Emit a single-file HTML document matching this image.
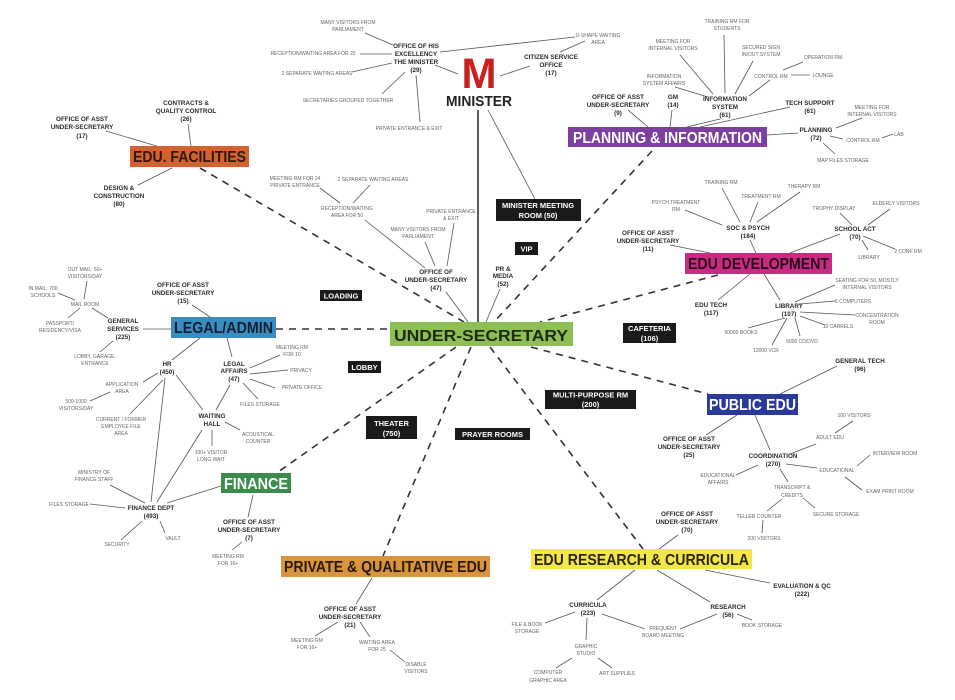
<!DOCTYPE html>
<html><head><meta charset="utf-8"><style>
body{margin:0;background:#fff}
svg{display:block}
text{font-family:"Liberation Sans",Arial,sans-serif;text-anchor:middle}
.b{font-size:6.3px;font-weight:bold;fill:#2a2a2a}
.l{font-size:5px;fill:#666}
.t{font-weight:bold;font-size:16px;text-anchor:start}
.w{font-weight:bold;font-size:7.5px;fill:#fff}
.s line{stroke:#555;stroke-width:.8}
.d line{stroke:#333;stroke-width:1.6;stroke-dasharray:7,6}
</style></head><body>
<svg width="955" height="700" viewBox="0 0 955 700" xmlns="http://www.w3.org/2000/svg">
<rect width="955" height="700" fill="#fff"/>
<!-- dashed -->
<g class="d">
<line x1="200" y1="168" x2="464" y2="322"/>
<line x1="276" y1="329" x2="390" y2="329"/>
<line x1="652" y1="151" x2="494" y2="322"/>
<line x1="718" y1="275" x2="540" y2="322"/>
<line x1="531" y1="347" x2="708" y2="394"/>
<line x1="490" y1="347" x2="643" y2="549"/>
<line x1="456" y1="347" x2="278" y2="472"/>
<line x1="471" y1="347" x2="383" y2="556"/>
</g>
<!-- solid thick -->
<line x1="478" y1="110" x2="478" y2="322" stroke="#333" stroke-width="1.6"/>
<g class="s">
<line x1="488" y1="110" x2="535" y2="199"/>
<line x1="365" y1="33" x2="393" y2="45"/><line x1="360" y1="54" x2="392" y2="54"/>
<line x1="352" y1="72" x2="392" y2="63"/><line x1="382" y1="94" x2="405" y2="72"/>
<line x1="420" y1="122" x2="416" y2="75"/><line x1="435" y1="65" x2="458" y2="74"/>
<line x1="440" y1="52" x2="575" y2="37"/>
<line x1="585" y1="41" x2="560" y2="52"/><line x1="530" y1="66" x2="500" y2="76"/>
<line x1="106" y1="131" x2="160" y2="147"/><line x1="188" y1="124" x2="191" y2="146"/>
<line x1="138" y1="185" x2="172" y2="168"/>
<line x1="320" y1="188" x2="340" y2="203"/><line x1="370" y1="185" x2="353" y2="203"/>
<line x1="365" y1="220" x2="425" y2="268"/><line x1="425" y1="242" x2="435" y2="266"/>
<line x1="454" y1="223" x2="447" y2="266"/><line x1="446" y1="292" x2="468" y2="322"/>
<line x1="87" y1="281" x2="84" y2="299"/><line x1="58" y1="293" x2="75" y2="300"/>
<line x1="92" y1="308" x2="108" y2="318"/><line x1="80" y1="308" x2="68" y2="318"/>
<line x1="143" y1="329" x2="171" y2="329"/><line x1="192" y1="305" x2="210" y2="317"/>
<line x1="680" y1="55" x2="713" y2="94"/><line x1="724" y1="35" x2="725" y2="93"/>
<line x1="753" y1="61" x2="735" y2="94"/><line x1="675" y1="87" x2="708" y2="97"/>
<line x1="770" y1="80" x2="749" y2="96"/><line x1="783" y1="70" x2="803" y2="62"/>
<line x1="791" y1="75" x2="810" y2="75"/>
<line x1="720" y1="119" x2="687" y2="127"/><line x1="790" y1="107" x2="700" y2="127"/>
<line x1="628" y1="110" x2="648" y2="127"/><line x1="672" y1="110" x2="670" y2="127"/>
<line x1="767" y1="135" x2="798" y2="133"/><line x1="836" y1="128" x2="862" y2="118"/>
<line x1="830" y1="136" x2="843" y2="139"/><line x1="882" y1="138" x2="893" y2="134"/>
<line x1="823" y1="143" x2="835" y2="154"/>
<line x1="500" y1="289" x2="486" y2="322"/>
<line x1="722" y1="188" x2="740" y2="222"/><line x1="758" y1="202" x2="750" y2="222"/>
<line x1="800" y1="192" x2="757" y2="222"/><line x1="685" y1="210" x2="722" y2="225"/>
<line x1="750" y1="240" x2="756" y2="253"/><line x1="670" y1="245" x2="710" y2="253"/>
<line x1="840" y1="213" x2="852" y2="225"/><line x1="890" y1="209" x2="868" y2="225"/>
<line x1="840" y1="234" x2="790" y2="253"/><line x1="862" y1="240" x2="868" y2="250"/>
<line x1="863" y1="236" x2="895" y2="249"/>
<line x1="718" y1="300" x2="750" y2="274"/><line x1="780" y1="300" x2="764" y2="274"/>
<line x1="795" y1="302" x2="835" y2="285"/><line x1="800" y1="304" x2="835" y2="301"/>
<line x1="800" y1="312" x2="855" y2="315"/><line x1="800" y1="316" x2="825" y2="325"/>
<line x1="785" y1="318" x2="748" y2="328"/><line x1="787" y1="318" x2="772" y2="345"/>
<line x1="795" y1="318" x2="800" y2="336"/>
<line x1="113" y1="341" x2="100" y2="352"/><line x1="200" y1="338" x2="172" y2="360"/>
<line x1="227" y1="338" x2="232" y2="357"/>
<line x1="250" y1="368" x2="280" y2="355"/><line x1="250" y1="374" x2="288" y2="370"/>
<line x1="250" y1="379" x2="275" y2="388"/><line x1="243" y1="383" x2="258" y2="399"/>
<line x1="158" y1="373" x2="143" y2="382"/><line x1="90" y1="401" x2="110" y2="392"/>
<line x1="163" y1="380" x2="130" y2="414"/><line x1="176" y1="375" x2="203" y2="410"/>
<line x1="165" y1="378" x2="151" y2="502"/><line x1="230" y1="385" x2="216" y2="410"/>
<line x1="225" y1="422" x2="240" y2="430"/><line x1="212" y1="430" x2="212" y2="446"/>
<line x1="202" y1="430" x2="157" y2="502"/>
<line x1="110" y1="485" x2="145" y2="503"/><line x1="90" y1="504" x2="125" y2="508"/>
<line x1="142" y1="521" x2="121" y2="540"/><line x1="160" y1="521" x2="165" y2="533"/>
<line x1="167" y1="503" x2="221" y2="486"/>
<line x1="253" y1="495" x2="248" y2="517"/><line x1="242" y1="542" x2="232" y2="550"/>
<line x1="372" y1="578" x2="356" y2="604"/><line x1="338" y1="622" x2="315" y2="636"/>
<line x1="360" y1="622" x2="370" y2="637"/><line x1="390" y1="650" x2="405" y2="662"/>
<line x1="837" y1="366" x2="780" y2="394"/><line x1="706" y1="435" x2="737" y2="415"/>
<line x1="755" y1="415" x2="770" y2="450"/><line x1="853" y1="421" x2="835" y2="433"/>
<line x1="816" y1="444" x2="790" y2="454"/><line x1="786" y1="464" x2="817" y2="468"/>
<line x1="857" y1="466" x2="870" y2="455"/><line x1="845" y1="477" x2="862" y2="490"/>
<line x1="736" y1="475" x2="758" y2="465"/><line x1="780" y1="469" x2="788" y2="482"/>
<line x1="782" y1="499" x2="767" y2="511"/><line x1="803" y1="498" x2="815" y2="508"/>
<line x1="763" y1="520" x2="762" y2="533"/>
<line x1="678" y1="535" x2="659" y2="549"/><line x1="705" y1="570" x2="770" y2="583"/>
<line x1="635" y1="570" x2="597" y2="600"/><line x1="657" y1="570" x2="710" y2="602"/>
<line x1="545" y1="623" x2="575" y2="612"/><line x1="602" y1="614" x2="645" y2="629"/>
<line x1="680" y1="629" x2="717" y2="614"/><line x1="737" y1="614" x2="752" y2="620"/>
<line x1="587" y1="618" x2="586" y2="640"/><line x1="572" y1="658" x2="556" y2="668"/>
<line x1="598" y1="658" x2="612" y2="668"/>
</g>
<!-- colored boxes -->
<rect x="390" y="322" width="183" height="24" fill="#8dbf55"/>
<text class="t" x="394" y="341" font-size="18" textLength="174" lengthAdjust="spacingAndGlyphs" fill="#1d2a12">UNDER-SECRETARY</text>
<rect x="130" y="146" width="119" height="21" fill="#d4622f"/>
<text class="t" x="133" y="162" textLength="113" lengthAdjust="spacingAndGlyphs" fill="#2a1a10">EDU. FACILITIES</text>
<rect x="568" y="127" width="199" height="20" fill="#7b3fa0"/>
<text class="t" x="573" y="143" textLength="189" lengthAdjust="spacingAndGlyphs" fill="#fff">PLANNING &amp; INFORMATION</text>
<rect x="685" y="253" width="147" height="21" fill="#c72b84"/>
<text class="t" x="688" y="269" textLength="141" lengthAdjust="spacingAndGlyphs" fill="#2a0a1a">EDU DEVELOPMENT</text>
<rect x="171" y="317" width="105" height="21" fill="#3a8dc0"/>
<text class="t" x="174" y="333" textLength="99" lengthAdjust="spacingAndGlyphs" fill="#102030">LEGAL/ADMIN</text>
<rect x="707" y="394" width="91" height="21" fill="#2a3a9a"/>
<text class="t" x="709" y="410" textLength="87" lengthAdjust="spacingAndGlyphs" fill="#fff">PUBLIC EDU</text>
<rect x="221" y="473" width="70" height="20" fill="#3d8c4f"/>
<text class="t" x="224" y="489" textLength="64" lengthAdjust="spacingAndGlyphs" fill="#fff">FINANCE</text>
<rect x="281" y="556" width="209" height="21" fill="#d99440"/>
<text class="t" x="284" y="572" textLength="203" lengthAdjust="spacingAndGlyphs" fill="#2a1a08">PRIVATE &amp; QUALITATIVE EDU</text>
<rect x="531" y="549" width="221" height="20" fill="#f3e64a"/>
<text class="t" x="534" y="565" textLength="215" lengthAdjust="spacingAndGlyphs" fill="#2a2508">EDU RESEARCH &amp; CURRICULA</text>
<!-- black boxes -->
<rect x="496" y="199" width="85" height="22" fill="#1a1a1a"/>
<text class="w" x="538" y="208">MINISTER MEETING</text><text class="w" x="538" y="218">ROOM (50)</text>
<rect x="515" y="242" width="23" height="13" fill="#1a1a1a"/><text class="w" x="526.5" y="251.5">VIP</text>
<rect x="320" y="290" width="42" height="11" fill="#1a1a1a"/><text class="w" x="341" y="298.5">LOADING</text>
<rect x="623" y="323" width="53" height="20" fill="#1a1a1a"/>
<text class="w" x="649.5" y="331">CAFETERIA</text><text class="w" x="649.5" y="341">(106)</text>
<rect x="348" y="361" width="33" height="12" fill="#1a1a1a"/><text class="w" x="364.5" y="370">LOBBY</text>
<rect x="366" y="416" width="51" height="23" fill="#1a1a1a"/>
<text class="w" x="391.5" y="426">THEATER</text><text class="w" x="391.5" y="436">(750)</text>
<rect x="455" y="428" width="75" height="12" fill="#1a1a1a"/><text class="w" x="492.5" y="437">PRAYER ROOMS</text>
<rect x="545" y="390" width="91" height="19" fill="#1a1a1a"/>
<text class="w" x="590.5" y="397.5">MULTI-PURPOSE RM</text><text class="w" x="590.5" y="407">(200)</text>
<!-- Minister -->
<text x="479" y="88" font-size="43" font-weight="bold" fill="#c8201f" textLength="35" lengthAdjust="spacingAndGlyphs">M</text>
<text x="479" y="106" font-size="15" font-weight="bold" fill="#222" textLength="66" lengthAdjust="spacingAndGlyphs">MINISTER</text>
<!-- bold labels -->
<g class="b">
<text x="416" y="48">OFFICE OF HIS</text><text x="416" y="56">EXCELLENCY</text><text x="416" y="64">THE MINISTER</text><text x="416" y="72">(29)</text>
<text x="551" y="59">CITIZEN SERVICE</text><text x="551" y="67">OFFICE</text><text x="551" y="75">(17)</text>
<text x="186" y="105">CONTRACTS &amp;</text><text x="186" y="113">QUALITY CONTROL</text><text x="186" y="121">(26)</text>
<text x="82" y="121">OFFICE OF ASST</text><text x="82" y="129">UNDER-SECRETARY</text><text x="82" y="138">(17)</text>
<text x="119" y="190">DESIGN &amp;</text><text x="119" y="198">CONSTRUCTION</text><text x="119" y="206">(80)</text>
<text x="436" y="274">OFFICE OF</text><text x="436" y="282">UNDER-SECRETARY</text><text x="436" y="290">(47)</text>
<text x="123" y="323">GENERAL</text><text x="123" y="331">SERVICES</text><text x="123" y="339">(225)</text>
<text x="183" y="287">OFFICE OF ASST</text><text x="183" y="295">UNDER-SECRETARY</text><text x="183" y="303">(15)</text>
<text x="618" y="99">OFFICE OF ASST</text><text x="618" y="107">UNDER-SECRETARY</text><text x="618" y="115">(9)</text>
<text x="673" y="99">GM</text><text x="673" y="107">(14)</text>
<text x="725" y="101">INFORMATION</text><text x="725" y="109">SYSTEM</text><text x="725" y="117">(61)</text>
<text x="810" y="105">TECH SUPPORT</text><text x="810" y="113">(61)</text>
<text x="816" y="132">PLANNING</text><text x="816" y="140">(72)</text>
<text x="503" y="271">PR &amp;</text><text x="503" y="278">MEDIA</text><text x="503" y="286">(52)</text>
<text x="748" y="230">SOC &amp; PSYCH</text><text x="748" y="238">(184)</text>
<text x="648" y="235">OFFICE OF ASST</text><text x="648" y="243">UNDER-SECRETARY</text><text x="648" y="251">(11)</text>
<text x="855" y="231">SCHOOL ACT</text><text x="855" y="239">(70)</text>
<text x="711" y="307">EDU TECH</text><text x="711" y="315">(117)</text>
<text x="789" y="308">LIBRARY</text><text x="789" y="316">(107)</text>
<text x="167" y="366">HR</text><text x="167" y="374">(450)</text>
<text x="234" y="366">LEGAL</text><text x="234" y="373">AFFAIRS</text><text x="234" y="381">(47)</text>
<text x="212" y="418">WAITING</text><text x="212" y="426">HALL</text>
<text x="151" y="510">FINANCE DEPT</text><text x="151" y="518">(493)</text>
<text x="249" y="524">OFFICE OF ASST</text><text x="249" y="532">UNDER-SECRETARY</text><text x="249" y="540">(7)</text>
<text x="350" y="611">OFFICE OF ASST</text><text x="350" y="619">UNDER-SECRETARY</text><text x="350" y="627">(21)</text>
<text x="860" y="363">GENERAL TECH</text><text x="860" y="371">(96)</text>
<text x="689" y="441">OFFICE OF ASST</text><text x="689" y="449">UNDER-SECRETARY</text><text x="689" y="457">(25)</text>
<text x="773" y="458">COORDINATION</text><text x="773" y="466">(270)</text>
<text x="687" y="516">OFFICE OF ASST</text><text x="687" y="524">UNDER-SECRETARY</text><text x="687" y="532">(70)</text>
<text x="802" y="588">EVALUATION &amp; QC</text><text x="802" y="596">(222)</text>
<text x="588" y="607">CURRICULA</text><text x="588" y="615">(223)</text>
<text x="728" y="609">RESEARCH</text><text x="728" y="617">(56)</text>
</g>
<!-- light labels -->
<g class="l">
<text x="348" y="24">MANY VISITORS FROM</text><text x="348" y="31">PARLIAMENT</text>
<text x="313" y="55">RECEPTION/WAITING AREA FOR 20</text>
<text x="317" y="75">2 SEPARATE WAITING AREAS</text>
<text x="348" y="102">SECRETARIES GROUPED TOGETHER</text>
<text x="409" y="130">PRIVATE ENTRANCE &amp; EXIT</text>
<text x="598" y="37">U-SHAPE WAITING</text><text x="598" y="44">AREA</text>
<text x="295" y="180">MEETING RM FOR 24</text><text x="295" y="187">PRIVATE ENTRANCE</text>
<text x="373" y="181">2 SEPARATE WAITING AREAS</text>
<text x="347" y="210">RECEPTION/WAITING</text><text x="347" y="217">AREA FOR 50</text>
<text x="451" y="213">PRIVATE ENTRANCE</text><text x="451" y="220">&amp; EXIT</text>
<text x="418" y="231">MANY VISITORS FROM</text><text x="418" y="238">PARLIAMENT</text>
<text x="85" y="271">OUT MAIL: 50+</text><text x="85" y="278">VISITORS/DAY</text>
<text x="43" y="290">IN MAIL: 700</text><text x="43" y="297">SCHOOLS</text>
<text x="85" y="306">MAIL ROOM</text>
<text x="60" y="325">PASSPORT/</text><text x="60" y="332">RESIDENCY/VISA</text>
<text x="727" y="23">TRAINING RM FOR</text><text x="727" y="30">STUDENTS</text>
<text x="673" y="43">MEETING FOR</text><text x="673" y="50">INTERNAL VISITORS</text>
<text x="761" y="49">SECURED SIGN</text><text x="761" y="56">IN/OUT SYSTEM</text>
<text x="823" y="59">OPERATION RM</text>
<text x="771" y="78">CONTROL RM</text><text x="823" y="77">LOUNGE</text>
<text x="664" y="78">INFORMATION</text><text x="664" y="85">SYSTEM AFFAIRS</text>
<text x="872" y="109">MEETING FOR</text><text x="872" y="116">INTERNAL VISITORS</text>
<text x="863" y="142">CONTROL RM</text><text x="899" y="136">LAB</text>
<text x="843" y="162">MAP FILES STORAGE</text>
<text x="721" y="184">TRAINING RM</text><text x="761" y="198">TREATMENT RM</text><text x="804" y="188">THERAPY RM</text>
<text x="676" y="204">PSYCH TREATMENT</text><text x="676" y="211">RM</text>
<text x="834" y="210">TROPHY DISPLAY</text><text x="896" y="205">ELDERLY VISITORS</text>
<text x="869" y="259">LIBRARY</text><text x="908" y="253">2 CONF RM</text>
<text x="867" y="282">SEATING FOR 50, MOSTLY</text><text x="867" y="289">INTERNAL VISITORS</text>
<text x="853" y="303">6 COMPUTERS</text>
<text x="877" y="317">CONCENTRATION</text><text x="877" y="324">ROOM</text>
<text x="838" y="328">10 CARRELS</text><text x="741" y="334">50000 BOOKS</text>
<text x="802" y="343">5000 CD/DVD</text><text x="766" y="352">12000 VCR</text>
<text x="95" y="358">LOBBY, GARAGE,</text><text x="95" y="365">ENTRANCE</text>
<text x="292" y="349">MEETING RM</text><text x="292" y="356">FOR 10</text>
<text x="301" y="372">PRIVACY</text><text x="302" y="389">PRIVATE OFFICE</text><text x="260" y="406">FILES STORAGE</text>
<text x="122" y="386">APPLICATION</text><text x="122" y="393">AREA</text>
<text x="76" y="403">500-1000</text><text x="76" y="410">VISITORS/DAY</text>
<text x="121" y="421">CURRENT / FORMER</text><text x="121" y="428">EMPLOYEE FILE</text><text x="121" y="435">AREA</text>
<text x="258" y="436">ACOUSTICAL</text><text x="258" y="443">COUNTER</text>
<text x="211" y="454">100+ VISITOR</text><text x="211" y="461">LONG WAIT</text>
<text x="94" y="474">MINISTRY OF</text><text x="94" y="481">FINANCE STAFF</text>
<text x="69" y="506">FILES STORAGE</text><text x="117" y="546">SECURITY</text><text x="173" y="540">VAULT</text>
<text x="228" y="558">MEETING RM</text><text x="228" y="565">FOR 16+</text>
<text x="307" y="642">MEETING RM</text><text x="307" y="649">FOR 16+</text>
<text x="377" y="644">WAITING AREA</text><text x="377" y="651">FOR 25</text>
<text x="416" y="666">DISABLE</text><text x="416" y="673">VISITORS</text>
<text x="854" y="417">100 VISITORS</text><text x="830" y="439">ADULT EDU</text>
<text x="895" y="455">INTERVIEW ROOM</text><text x="837" y="472">EDUCATIONAL</text><text x="890" y="493">EXAM PRINT ROOM</text>
<text x="718" y="477">EDUCATIONAL</text><text x="718" y="484">AFFAIRS</text>
<text x="792" y="489">TRANSCRIPT &amp;</text><text x="792" y="497">CREDITS</text>
<text x="759" y="518">TELLER COUNTER</text><text x="836" y="516">SECURE STORAGE</text><text x="764" y="540">200 VISITORS</text>
<text x="527" y="626">FILE &amp; BOOK</text><text x="527" y="633">STORAGE</text>
<text x="663" y="630">FREQUENT</text><text x="663" y="637">BOARD MEETING</text>
<text x="762" y="627">BOOK STORAGE</text>
<text x="586" y="648">GRAPHIC</text><text x="586" y="655">STUDIO</text>
<text x="548" y="674">COMPUTER</text><text x="548" y="682">GRAPHIC AREA</text>
<text x="617" y="675">ART SUPPLIES</text>
</g>
</svg>
</body></html>
